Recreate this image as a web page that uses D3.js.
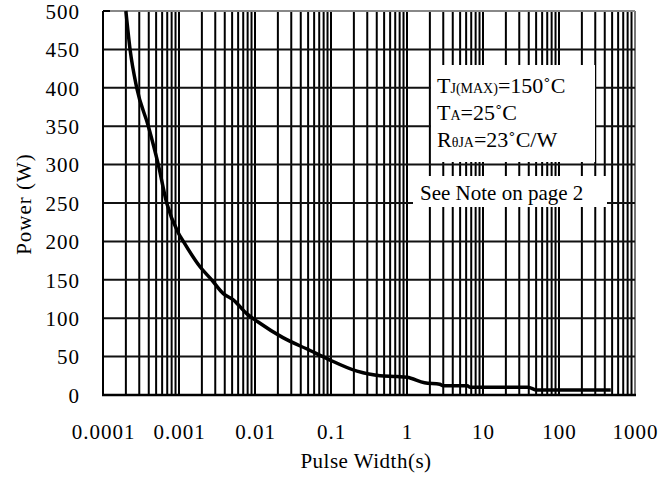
<!DOCTYPE html>
<html><head><meta charset="utf-8">
<script src="https://cdn.jsdelivr.net/npm/d3@7"></script>
</head>
<body style="margin:0">
<svg id="c" width="671" height="477"></svg>
<script>
const pulseWidth = [0.0002, 0.000227, 0.000278, 0.000395, 0.000534, 0.000689, 0.00098, 0.00114, 0.00189, 0.00269, 0.00383, 0.00518, 0.00778, 0.011, 0.023, 0.053, 0.09, 0.22, 0.44, 0.74, 1, 1.7, 2.7, 3, 6.2, 6.8, 39, 51, 480];
const power = [500, 450, 400, 350, 300, 250, 211, 200, 167, 150, 132, 124, 106, 95, 75, 58, 47, 31, 25, 24, 23, 16, 14, 12, 12, 10, 10, 6.5, 6.5];
const xTicks = [0.0001, 0.001, 0.01, 0.1, 1, 10, 100, 1000];
const xTickLabels = ["0.0001", "0.001", "0.01", "0.1", "1", "10", "100", "1000"];
const yTicks = [0, 50, 100, 150, 200, 250, 300, 350, 400, 450, 500];

const FONT = "Liberation Serif";
const svg = d3.select("#c");
const L = 103, R = 635, T = 11, B = 395;
const x = d3.scaleLog().domain([0.0001, 1000]).range([L, R]);
const y = d3.scaleLinear().domain([0, 500]).range([B, T]);

// vertical grid
const vg = [];
for (let e = -4; e <= 2; e++) for (let k = 1; k <= 9; k++) vg.push(k * Math.pow(10, e));
vg.push(1000);
const g = svg.append("g");
g.selectAll("line.v").data(vg).enter().append("line")
  .attr("x1", d => x(d)).attr("x2", d => x(d)).attr("y1", T).attr("y2", B)
  .attr("stroke", (d,i) => i === vg.length-1 ? "#777" : "#000").attr("stroke-width", 2);
g.selectAll("line.h").data(yTicks).enter().append("line")
  .attr("x1", L).attr("x2", R).attr("y1", d => y(d)).attr("y2", d => y(d))
  .attr("stroke", d => d === 500 ? "#888" : "#111").attr("stroke-width", 2);
g.append("line").attr("x1", L).attr("x2", L).attr("y1", T).attr("y2", B).attr("stroke", "#000").attr("stroke-width", 2);
g.append("line").attr("x1", L).attr("x2", L+7).attr("y1", T).attr("y2", T).attr("stroke", "#000").attr("stroke-width", 2);
g.append("line").attr("x1", L-1).attr("x2", R+1).attr("y1", B).attr("y2", B).attr("stroke", "#000").attr("stroke-width", 2.5);

// annotation boxes
svg.append("rect").attr("x", 431).attr("y", 65).attr("width", 164).attr("height", 97).attr("fill", "#fff");
svg.append("rect").attr("x", 413).attr("y", 176).attr("width", 194).attr("height", 31).attr("fill", "#fff");

function txt(sel, xx, yy, size) {
  return sel.append("text").attr("x", xx).attr("y", yy).attr("font-size", size).attr("font-family", FONT).style("font-family", FONT);
}
const t1 = txt(svg, 437, 93, 22);
t1.append("tspan").text("T");
t1.append("tspan").attr("font-size", 14).text("J(MAX)");
t1.append("tspan").text("=150˚C");
const t2 = txt(svg, 437, 120, 22);
t2.append("tspan").text("T");
t2.append("tspan").attr("font-size", 14).text("A");
t2.append("tspan").text("=25˚C");
const t3 = txt(svg, 437, 147, 22);
t3.append("tspan").text("R");
t3.append("tspan").attr("font-size", 14).text("θJA");
t3.append("tspan").text("=23˚C/W");
txt(svg, 420, 200, 21).text("See Note on page 2");

// curve
const line = d3.line().x((d,i) => x(pulseWidth[i])).y(d => y(d)).curve(d3.curveMonotoneX);
svg.append("path").attr("d", line(power)).attr("fill", "none").attr("stroke", "#000").attr("stroke-width", 3.5).attr("stroke-linejoin", "round");

// axes labels
const yAxis = d3.axisLeft(y).tickValues(yTicks).tickSize(0).tickPadding(0);
const ya = svg.append("g").attr("transform", `translate(80,0)`).call(yAxis);
ya.attr("font-family", FONT).attr("font-size", 21);
ya.select(".domain").remove();
ya.selectAll("text").attr("letter-spacing", 1).style("font-family", FONT).attr("fill", "#000").attr("dy", "0.35em");

const xAxis = d3.axisBottom(x).tickValues(xTicks).tickFormat((d,i) => xTickLabels[i]).tickSize(0).tickPadding(0);
const xa = svg.append("g").call(xAxis);
xa.attr("font-family", FONT).attr("font-size", 21);
xa.select(".domain").remove();
xa.selectAll("text").attr("letter-spacing", 1).style("font-family", FONT).attr("fill", "#000").attr("y", 439).attr("dy", 0);

txt(svg, 366, 468, 21).attr("text-anchor", "middle").attr("letter-spacing", 0.5).text("Pulse Width(s)");
txt(svg, 0, 0, 21).attr("transform", "translate(31,204) rotate(-90)").attr("text-anchor", "middle").attr("letter-spacing", 1).text("Power (W)");
</script>
</body></html>
